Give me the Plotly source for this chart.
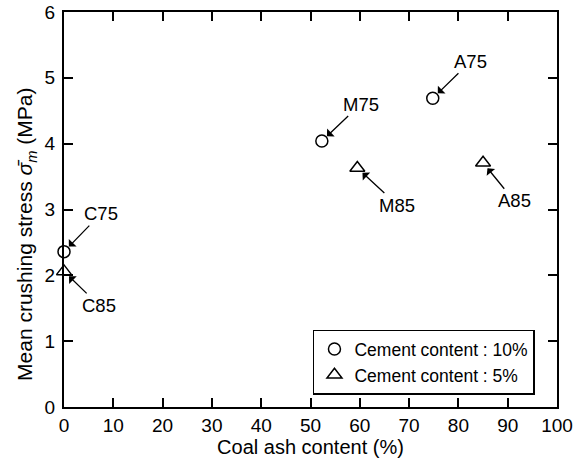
import plotly.graph_objects as go

# Data
labels_10 = ["C75", "M75", "A75"]
ash_10 = [0, 52.3, 74.8]
stress_10 = [2.36, 4.04, 4.69]

labels_5 = ["C85", "M85", "A85"]
ash_5 = [0, 59.5, 85.0]
stress_5 = [2.06, 3.63, 3.71]

# label offsets (pixels) for arrows
offsets = {
    "C75": (37, -38), "M75": (39, -37), "A75": (38, -37),
    "C85": (35, 34), "M85": (40, 37), "A85": (31, 38),
}

FONT = "Liberation Sans, Arial, sans-serif"

fig = go.Figure()
fig.add_trace(go.Scatter(
    x=ash_10, y=stress_10, mode="markers", name="Cement content : 10%",
    marker=dict(symbol="circle-open", size=12, color="black", line=dict(width=1.5, color="black")),
    cliponaxis=False,
))
fig.add_trace(go.Scatter(
    x=ash_5, y=stress_5, mode="markers", name="Cement content : 5%",
    marker=dict(symbol="triangle-up-open", size=13, color="black", line=dict(width=1.5, color="black")),
    cliponaxis=False,
))

for labs, xs, ys in [(labels_10, ash_10, stress_10), (labels_5, ash_5, stress_5)]:
    for lab, xv, yv in zip(labs, xs, ys):
        ax, ay = offsets[lab]
        fig.add_annotation(
            x=xv, y=yv, text=lab, showarrow=True, ax=ax, ay=ay,
            arrowhead=1, arrowsize=1.4, arrowwidth=1.3, arrowcolor="black",
            standoff=7, font=dict(family=FONT, size=18.5, color="black"),
        )

# y-axis title as a rotated annotation for precise placement
fig.add_annotation(
    xref="paper", yref="paper", x=-0.076, y=0.437,
    text="Mean crushing stress <i>σ̄<sub>m</sub></i> (MPa)", textangle=-90,
    showarrow=False, xanchor="center", yanchor="middle",
    font=dict(family=FONT, size=21, color="black"),
)

axis_common = dict(
    showline=True, linecolor="black", linewidth=2, mirror="allticks",
    ticks="inside", ticklen=9, tickwidth=1.5, tickcolor="black",
    showgrid=False, zeroline=False, automargin=False,
    tickfont=dict(family=FONT, size=19, color="black"),
)

fig.update_xaxes(
    range=[0, 100], dtick=10, tick0=0,
    title=dict(text="Coal ash content (%)", font=dict(family=FONT, size=20, color="black"), standoff=5),
    **axis_common,
)
fig.update_yaxes(
    range=[0, 6], dtick=1, tick0=0, ticklabelstandoff=3,
    **axis_common,
)

fig.update_layout(
    width=574, height=468,
    margin=dict(l=64, r=17, t=12, b=61, autoexpand=False),
    paper_bgcolor="white", plot_bgcolor="white",
    showlegend=True,
    legend=dict(
        x=0.505, y=0.196, xanchor="left", yanchor="top",
        bordercolor="black", borderwidth=1.5, bgcolor="white",
        font=dict(family=FONT, size=17.5, color="black"),
        itemwidth=30, tracegroupgap=0,
    ),
)

fig.write_html("out.html")
